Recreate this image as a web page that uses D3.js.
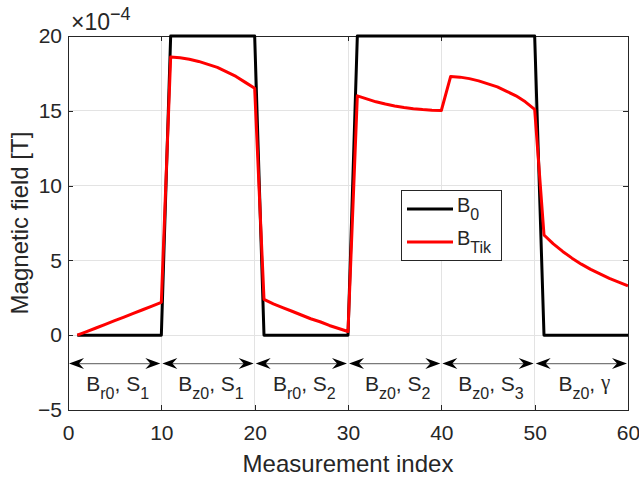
<!DOCTYPE html>
<html>
<head>
<meta charset="utf-8">
<script src="https://cdn.jsdelivr.net/npm/d3@7"></script>
<style>
  html, body { margin: 0; padding: 0; background: #fff; }
  svg { display: block; font-family: "Liberation Sans", Arial, Helvetica, sans-serif; }
</style>
</head>
<body>
<svg id="chart" width="639" height="480"></svg>
<script>
// ---------- data ----------
const measurementIndex = [1,2,3,4,5,6,7,8,9,10,11,12,13,14,15,16,17,18,19,20,
  21,22,23,24,25,26,27,28,29,30,31,32,33,34,35,36,37,38,39,40,
  41,42,43,44,45,46,47,48,49,50,51,52,53,54,55,56,57,58,59,60];

// values in units of 1e-4 T
const B0 = [0,0,0,0,0,0,0,0,0,0,
  20,20,20,20,20,20,20,20,20,20,
  0,0,0,0,0,0,0,0,0,0,
  20,20,20,20,20,20,20,20,20,20,
  20,20,20,20,20,20,20,20,20,20,
  0,0,0,0,0,0,0,0,0,0];

const BTik = [0,0.24,0.48,0.72,0.97,1.21,1.46,1.7,1.95,2.2,
  18.6,18.55,18.45,18.3,18.1,17.9,17.6,17.3,16.9,16.5,
  2.4,2.1,1.85,1.6,1.35,1.1,0.9,0.65,0.45,0.25,
  16.0,15.8,15.6,15.45,15.32,15.22,15.14,15.08,15.04,15.02,
  17.3,17.25,17.15,17.0,16.8,16.6,16.3,16.0,15.6,15.1,
  6.7,6.1,5.6,5.15,4.75,4.4,4.1,3.8,3.55,3.3];

const xTicks = [0,10,20,30,40,50,60];
const yTicks = [-5,0,5,10,15,20];

const segStart = [0,10,20,30,40,50];
const segEnd   = [10,20,30,40,50,60];
const segMain  = ["B","B","B","B","B","B"];
const segSub   = ["r0","z0","r0","z0","z0","z0"];
const segParam = ["S","S","S","S","S","\u03b3"];
const segParamSub = ["1","1","2","2","3",""];
const arrowLevel = -1.9;
const labelLevel = -3.73;

const seriesNames = ["0","Tik"];

// ---------- layout ----------
const svg = d3.select("#chart");
const L = 68, R = 628, T = 36, B = 410;
const x = d3.scaleLinear().domain([0,60]).range([L,R]);
const y = d3.scaleLinear().domain([-5,20]).range([B,T]);
const axisColor = "#262626";
const gridColor = "#e3e3e3";

// grid
const grid = svg.append("g");
grid.selectAll(".gx").data(xTicks.slice(1,-1)).join("line")
  .attr("x1", d => x(d)).attr("x2", d => x(d)).attr("y1", T).attr("y2", B)
  .attr("stroke", gridColor).attr("stroke-width", 1).attr("shape-rendering","crispEdges");
grid.selectAll(".gy").data(yTicks.slice(1,-1)).join("line")
  .attr("x1", L).attr("x2", R).attr("y1", d => y(d)).attr("y2", d => y(d))
  .attr("stroke", gridColor).attr("stroke-width", 1).attr("shape-rendering","crispEdges");

// axes (ticks inside)
const tickLen = 5;
const xAxisB = d3.axisBottom(x).tickValues(xTicks).tickSize(-tickLen).tickPadding(15).tickFormat(d3.format("d"));
const xAxisT = d3.axisTop(x).tickValues(xTicks).tickSize(-tickLen).tickFormat("");
const yAxisL = d3.axisLeft(y).tickValues(yTicks).tickSize(-tickLen).tickPadding(6)
  .tickFormat(d => d < 0 ? "\u2212" + Math.abs(d) : d);
const yAxisR = d3.axisRight(y).tickValues(yTicks).tickSize(-tickLen).tickFormat("");

function styleAxis(g) {
  g.selectAll("path").attr("stroke", axisColor).attr("shape-rendering","crispEdges");
  g.selectAll("line").attr("stroke", axisColor).attr("shape-rendering","crispEdges");
  g.selectAll("text").attr("fill", axisColor).attr("font-size", 21)
    .attr("font-family", "'Liberation Sans', Arial, sans-serif");
}
svg.append("g").attr("transform", `translate(0,${B})`).call(xAxisB).call(styleAxis);
svg.append("g").attr("transform", `translate(0,${T})`).call(xAxisT).call(styleAxis);
svg.append("g").attr("transform", `translate(${L},0)`).call(yAxisL).call(styleAxis);
svg.append("g").attr("transform", `translate(${R},0)`).call(yAxisR).call(styleAxis);
svg.selectAll(".domain").attr("d", null);
svg.append("rect").attr("x", L).attr("y", T).attr("width", R-L).attr("height", B-T)
  .attr("fill", "none").attr("stroke", axisColor).attr("shape-rendering","crispEdges");

// exponent label
const expo = svg.append("text").attr("x", 71).attr("y", 30).attr("fill", axisColor)
  .attr("font-size", 23);
expo.append("tspan").text("\u00d710");
expo.append("tspan").attr("dy", -10).attr("font-size", 18).text("\u22124");

// axis labels
svg.append("text").attr("x", (L+R)/2).attr("y", 472).attr("text-anchor","middle")
  .attr("font-size", 24).attr("fill", axisColor).text("Measurement index");
svg.append("text").attr("transform", `translate(28,${(T+B)/2}) rotate(-90)`)
  .attr("text-anchor","middle").attr("font-size", 24).attr("fill", axisColor)
  .text("Magnetic field [T]");

// lines
svg.append("defs").append("clipPath").attr("id","clip")
  .append("rect").attr("x", L).attr("y", T-3).attr("width", R-L).attr("height", B-T+6);
const line = d3.line().x((d,i) => x(measurementIndex[i])).y(d => y(d));
svg.append("path").datum(B0).attr("d", line).attr("fill","none")
  .attr("stroke","#000").attr("stroke-width",3).attr("stroke-linejoin","round");
svg.append("path").datum(BTik).attr("d", line).attr("fill","none")
  .attr("stroke","#ff0000").attr("stroke-width",3).attr("stroke-linejoin","round")
  .attr("clip-path","url(#clip)");

// annotation arrows
const ann = svg.append("g");
function arrowHead(tipX, tipY, dir) {
  const len = 15, half = 5.5, notch = 10;
  const p = [
    [tipX, tipY],
    [tipX - dir*len, tipY - half],
    [tipX - dir*notch, tipY],
    [tipX - dir*len, tipY + half]
  ];
  ann.append("path").attr("d", "M" + p.map(q => q.join(",")).join("L") + "Z").attr("fill", "#000");
}
segStart.forEach((s, i) => {
  const x1 = x(s), x2 = x(segEnd[i]), yy = y(arrowLevel);
  ann.append("line").attr("x1", x1+8).attr("x2", x2-8).attr("y1", yy).attr("y2", yy)
    .attr("stroke", "#7a7a7a").attr("stroke-width", 1.2);
  arrowHead(x1 + 1, yy, -1);
  arrowHead(x2 - 1, yy, 1);
  const t = ann.append("text").attr("x", x((s + segEnd[i]) / 2) + 3).attr("y", y(labelLevel))
    .attr("text-anchor", "middle").attr("font-size", 21).attr("fill", axisColor);
  t.append("tspan").text(segMain[i]);
  t.append("tspan").attr("dy", 8).attr("font-size", 16).text(segSub[i]);
  if (segParamSub[i]) {
    t.append("tspan").attr("dy", -8).text(", " + segParam[i]);
    t.append("tspan").attr("dy", 8).attr("font-size", 16).text(segParamSub[i]);
  } else {
    t.append("tspan").attr("dy", -8).text(", ");
    t.append("tspan").attr("dy", -2).attr("font-family", "'Liberation Serif', serif").attr("font-size", 21).text(segParam[i]);
  }
});

// legend
const lg = svg.append("g");
lg.append("rect").attr("x", 401).attr("y", 190).attr("width", 100).attr("height", 70)
  .attr("fill", "#fff").attr("stroke", axisColor).attr("shape-rendering","crispEdges");
const legColors = ["#000", "#ff0000"];
seriesNames.forEach((n, i) => {
  const yy = 209 + i * 33;
  lg.append("line").attr("x1", 407).attr("x2", 453).attr("y1", yy).attr("y2", yy)
    .attr("stroke", legColors[i]).attr("stroke-width", 3);
  const t = lg.append("text").attr("x", 457).attr("y", yy + 3).attr("font-size", 20).attr("fill", axisColor);
  t.append("tspan").text("B");
  t.append("tspan").attr("dy", 8).attr("font-size", 16).text(n);
});
</script>
</body>
</html>
